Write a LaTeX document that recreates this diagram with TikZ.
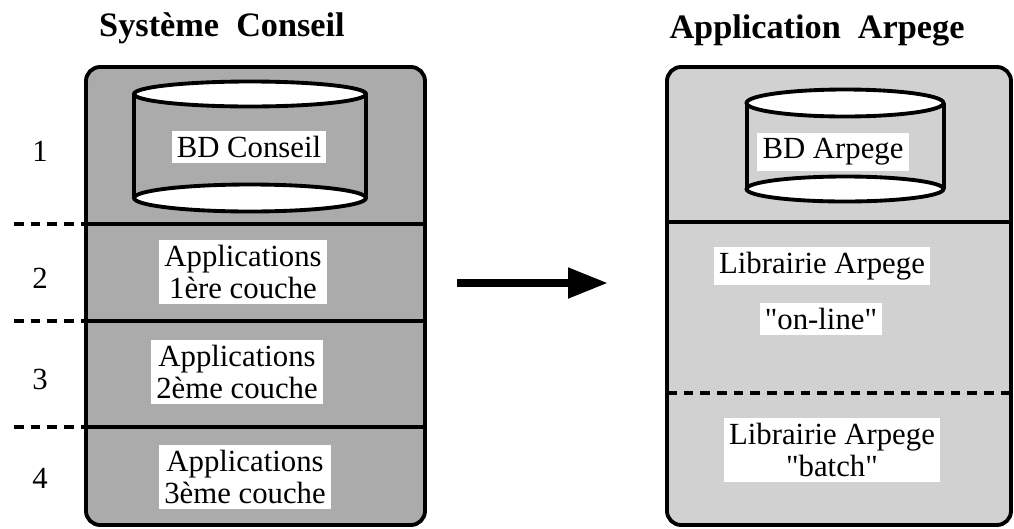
\documentclass[tikz,border=0pt]{standalone}
\usepackage{fontspec}
\setmainfont{Liberation Serif}[Ligatures=TeXOff]
\usetikzlibrary{arrows.meta}

\definecolor{leftgray}{gray}{0.67}
\definecolor{rightgray}{gray}{0.82}

\begin{document}
\begin{tikzpicture}[
    x=0.02cm,
    y=-0.02cm,
    every node/.style={font=\fontsize{17.5}{18.5}\selectfont},
    labelbox/.style={fill=white,inner sep=3pt,align=center},
    titletext/.style={font=\fontsize{19.5}{21}\selectfont\bfseries},
    frameline/.style={line width=2.2pt},
    sepdash/.style={line width=2pt,dash pattern=on 5.5pt off 4pt}
]

\useasboundingbox (0,0) rectangle (1014,528);

%------------------------------------------------------------
% Coordinates
%------------------------------------------------------------

\coordinate (LA) at (86,67);     % left box, top left
\coordinate (LB) at (425,525);   % left box, bottom right
\coordinate (RA) at (667,67);    % right box, top left
\coordinate (RB) at (1011,525);  % right box, bottom right

\coordinate (arrowstart) at (457,283);
\coordinate (arrowend) at (608,283);

%------------------------------------------------------------
% Titles
%------------------------------------------------------------

\node[titletext] (titleleft) at (222,28) {Système\ \ Conseil};
\node[titletext] (titleright) at (817,30) {Application\ \ Arpege};

%------------------------------------------------------------
% Left box
%------------------------------------------------------------

\draw[frameline,fill=leftgray,rounded corners=8pt]
(LA) rectangle (LB);

% layers
\draw[frameline] (86,224)--(425,224);
\draw[frameline] (86,321)--(425,321);
\draw[frameline] (86,427)--(425,427);

% dashed marks
\draw[sepdash] (14,224)--(86,224);
\draw[sepdash] (14,321)--(86,321);
\draw[sepdash] (14,427)--(86,427);

% cylinder
\draw[frameline] (134,94)--(134,198);
\draw[frameline] (366,94)--(366,198);
\draw[frameline,fill=white]
(250,198) ellipse [x radius=2.32cm,y radius=0.27cm];
\draw[frameline,fill=white]
(250,94) ellipse [x radius=2.32cm,y radius=0.25cm];

\node[labelbox] (bdconseil) at (249,147) {BD Conseil};

\node[labelbox] (couche1) at (243,272) {Applications\\1ère couche};
\node[labelbox] (couche2) at (237,372) {Applications\\2ème couche};
\node[labelbox] (couche3) at (245,477) {Applications\\3ème couche};

% layer numbers
\node (num1) at (40,151) {1};
\node (num2) at (40,278) {2};
\node (num3) at (40,379) {3};
\node (num4) at (40,478) {4};

%------------------------------------------------------------
% Right box
%------------------------------------------------------------

\draw[frameline,fill=rightgray,rounded corners=8pt]
(RA) rectangle (RB);

\draw[frameline] (667,222)--(1011,222);
\draw[sepdash] (667,393)--(1011,393);

% cylinder
\draw[frameline] (747,103)--(747,189);
\draw[frameline] (944,103)--(944,189);
\draw[frameline,fill=white]
(845,189) ellipse [x radius=1.97cm,y radius=0.25cm];
\draw[frameline,fill=white]
(845,103) ellipse [x radius=1.97cm,y radius=0.27cm];

\node[labelbox] (bdarpege) at (833,152) {BD Arpege};

\node[labelbox] (libonline) at (822,266) {Librairie Arpege};
\node[labelbox] (online) at (821,319) {"on-line"};
\node[labelbox] (libbatch) at (832,450) {Librairie Arpege\\"batch"};

%------------------------------------------------------------
% Arrow
%------------------------------------------------------------

\draw[line width=4.5pt,-{Triangle[length=0.8cm,width=0.58cm]}]
(arrowstart)--(arrowend);

\end{tikzpicture}
\end{document}
